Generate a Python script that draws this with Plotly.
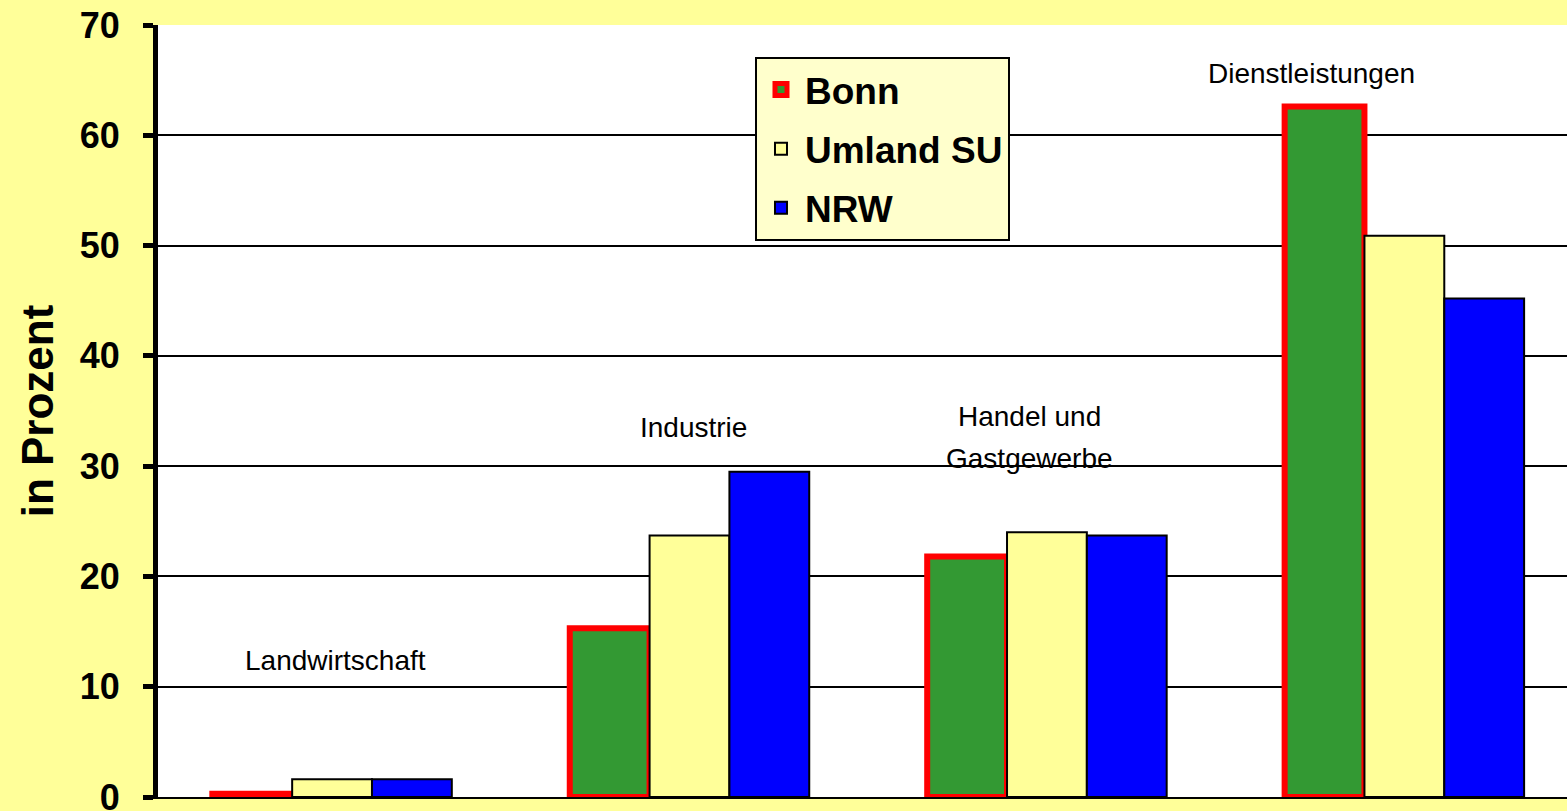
import plotly.graph_objects as go

categories = ["Landwirtschaft", "Industrie", "Handel und Gastgewerbe", "Dienstleistungen"]
bonn = [0.3, 15.3, 21.8, 62.6]
umland = [1.6, 23.7, 24.0, 50.9]
nrw = [1.6, 29.5, 23.7, 45.2]
y_ticks = [0, 10, 20, 30, 40, 50, 60, 70]

# category label lines with anchor positions (category index offset, y value)
label_lines = ["Landwirtschaft", "Industrie", "Handel und", "Gastgewerbe", "Dienstleistungen"]
label_x = [0.01, 1.01, 1.95, 1.95, 2.74]
label_y = [12.4, 33.5, 34.5, 30.7, 65.6]

fig = go.Figure()
fig.add_trace(go.Bar(name="Bonn", x=list(range(4)), y=bonn, legendgroup="a",
                     marker=dict(color="#339933", line=dict(color="#FF0000", width=6))))
fig.add_trace(go.Bar(name="Umland SU", x=list(range(4)), y=umland, legendgroup="b",
                     marker=dict(color="#FFFF99", line=dict(color="#000000", width=2))))
fig.add_trace(go.Bar(name="NRW", x=list(range(4)), y=nrw, legendgroup="c",
                     marker=dict(color="#0000FF", line=dict(color="#000000", width=2))))

for t, xx, yy in zip(label_lines, label_x, label_y):
    fig.add_annotation(x=xx, y=yy, text=t, showarrow=False,
                       font=dict(family="Arial, Liberation Sans", size=28, color="#000000"))

fig.update_layout(
    width=1567, height=811,
    paper_bgcolor="#FFFF99", plot_bgcolor="#FFFFFF",
    margin=dict(l=158, r=0, t=25, b=14, autoexpand=False),
    barmode="group", bargap=0.33, bargroupgap=0,
    font=dict(family="Arial, Liberation Sans", color="#000000"),
    showlegend=True,
    legend=dict(x=0.4237, y=0.9585, xanchor="left", yanchor="top",
                bgcolor="#FFFFCC", bordercolor="#000000", borderwidth=2,
                font=dict(size=37, family="Arial, Liberation Sans", weight="bold"),
                tracegroupgap=8, traceorder="grouped", itemwidth=38),
    xaxis=dict(range=[-0.487, 3.455], showticklabels=False, showgrid=False, automargin=False,
               showline=True, linecolor="#000000", linewidth=2, ticks="", zeroline=False),
    yaxis=dict(range=[0, 70], tickvals=y_ticks, showgrid=True, gridcolor="#000000", gridwidth=2,
               showline=True, linecolor="#000000", linewidth=5, ticks="outside", ticklen=10,
               tickwidth=5, tickcolor="#000000", zeroline=False, ticklabelstandoff=16,
               ticklabeloverflow="allow", automargin=False,
               tickfont=dict(size=36, family="Arial, Liberation Sans", weight="bold"),
               title=dict(text="in Prozent", standoff=14,
                          font=dict(size=44, family="Arial, Liberation Sans", weight="bold"))),
)

fig.write_html("out.html", config={"displayModeBar": False},
               post_script="document.body.style.margin='0';document.body.style.padding='0';")
